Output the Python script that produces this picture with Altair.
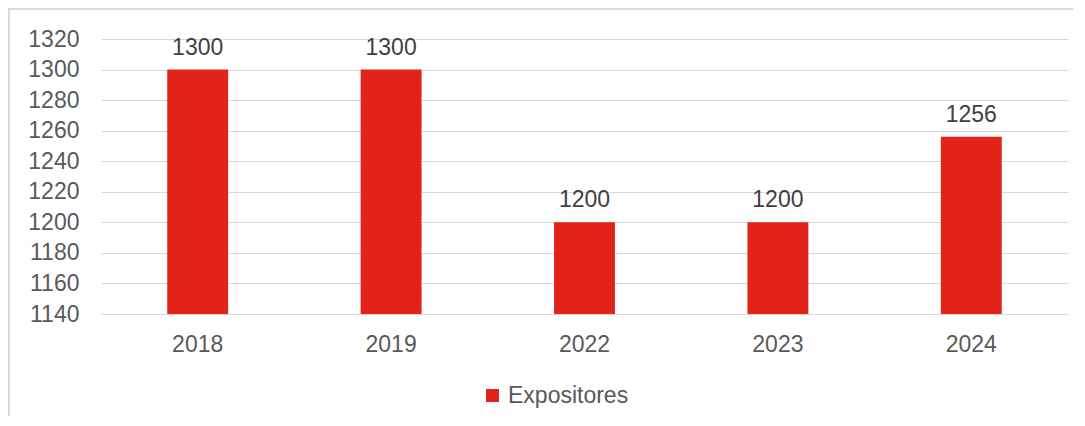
import altair as alt
import pandas as pd

years = ["2018", "2019", "2022", "2023", "2024"]
expositores = [1300, 1300, 1200, 1200, 1256]
series_name = "Expositores"
y_ticks = [1140, 1160, 1180, 1200, 1220, 1240, 1260, 1280, 1300, 1320]
y_min, y_max = 1140, 1320

df = pd.DataFrame({"year": years, "value": expositores, "serie": [series_name] * len(years)})

FONT = "Liberation Sans"
RED = "#E2231A"

base = alt.Chart(df)

x_enc = alt.X(
    "year:N",
    sort=years,
    title=None,
    scale=alt.Scale(paddingInner=0.685, paddingOuter=0.3425),
    axis=alt.Axis(
        labelAngle=0, ticks=False, domain=False, labelFontSize=23,
        labelColor="#595959", labelFont=FONT, labelPadding=19, grid=False,
    ),
)

y_enc = alt.Y(
    "value:Q",
    title=None,
    scale=alt.Scale(domain=[y_min, y_max], zero=False, nice=False),
    axis=alt.Axis(
        values=y_ticks, format="d", labelOverlap=False, labelFlush=False,
        ticks=False, domain=False, labelFontSize=23,
        labelColor="#595959", labelFont=FONT, labelPadding=22,
        gridColor="#d9d9d9", gridWidth=1.2,
    ),
)

bars = base.mark_bar(color=RED).encode(
    x=x_enc,
    y=y_enc,
    y2=alt.datum(y_min),
    fill=alt.Fill(
        "serie:N",
        scale=alt.Scale(domain=[series_name], range=[RED]),
        legend=alt.Legend(
            title=None, orient="none", legendX=380, legendY=345,
            symbolType="square", symbolSize=170,
            labelFontSize=23, labelColor="#595959", labelFont=FONT,
            symbolStrokeWidth=0, labelOffset=4,
        ),
    ),
)

labels = base.mark_text(
    baseline="alphabetic", dy=-15, fontSize=23, color="#404040", font=FONT
).encode(
    x=x_enc,
    y=y_enc,
    text=alt.Text("value:Q"),
)

frame = alt.Chart(pd.DataFrame({"a": [0]})).mark_rect(
    fill=None, stroke="#d9d9d9", strokeWidth=2
).encode(
    x=alt.value(-92), x2=alt.value(1100), y=alt.value(-30), y2=alt.value(420)
)

chart = alt.layer(frame, bars, labels).properties(
    width=967,
    height=275,
    background="white",
    autosize=alt.AutoSizeParams(type="none"),
    padding={"left": 93, "top": 31, "right": 5, "bottom": 102},
).configure_view(stroke=None)

chart.save("out.html", embed_options={"renderer": "svg", "actions": False})
